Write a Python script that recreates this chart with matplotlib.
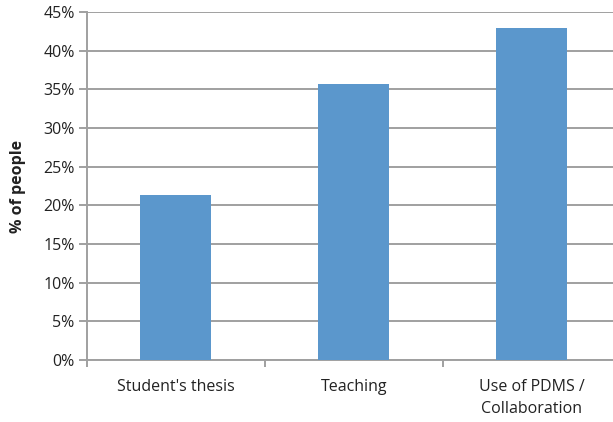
import matplotlib
matplotlib.use("Agg")
import matplotlib.pyplot as plt
from matplotlib.ticker import FixedLocator, FuncFormatter

categories = ["Student's thesis", "Teaching", "Use of PDMS /\nCollaboration"]
values = [21.4, 35.7, 42.9]
yticks = [0, 5, 10, 15, 20, 25, 30, 35, 40, 45]

plt.rcParams['font.family'] = ['Open Sans', 'DejaVu Sans']

fig = plt.figure(figsize=(6.13, 4.22), dpi=100)
ax = fig.add_axes([87/613, 1-360/422, (620.5-87)/613, (360-12)/422])

x = list(range(len(categories)))
ax.bar(x, values, width=0.4, color='#5B97CC', zorder=3)
ax.set_xlim(-0.5, 2.5)
ax.set_ylim(0, 45)
ax.set_yticks(yticks)
ax.yaxis.set_major_formatter(FuncFormatter(lambda v, p: f"{int(v)}%"))
ax.yaxis.grid(True, color='#a0a0a0', linewidth=1.4, zorder=0)
ax.set_axisbelow(True)

ax.set_xticks(x)
ax.set_xticklabels(categories, fontsize=11.5, color='#222222', linespacing=1.5)
ax.tick_params(axis='x', which='major', length=0, pad=14)
ax.xaxis.set_minor_locator(FixedLocator([-0.5, 0.5, 1.5, 2.5]))
ax.tick_params(axis='x', which='minor', length=5, width=1.4, color='#a0a0a0')
ax.tick_params(axis='y', length=6, width=1.4, color='#a0a0a0', labelsize=11.5, labelcolor='#222222', pad=3)

for s in ['top', 'right']:
    ax.spines[s].set_visible(False)
for s in ['left', 'bottom']:
    ax.spines[s].set_color('#a0a0a0')
    ax.spines[s].set_linewidth(1.4)

ax.set_ylabel('% of people', fontsize=11.5, fontweight='bold', color='#222222', labelpad=12)

fig.savefig('out.png', dpi=100)
